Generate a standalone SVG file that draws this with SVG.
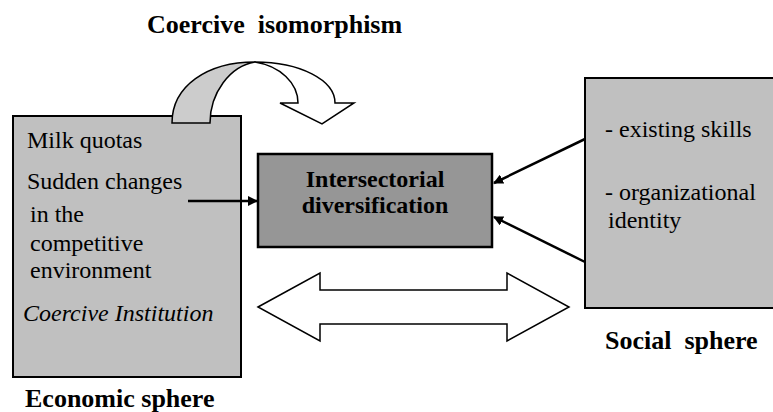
<svg xmlns="http://www.w3.org/2000/svg" width="773" height="412" viewBox="0 0 773 412">
<defs>
<style>
.box{fill:#c0c0c0;stroke:#000;stroke-width:2}
.mid{fill:#969696;stroke:#000;stroke-width:2.5}
.t{font-family:"Liberation Serif","Times New Roman",serif;font-size:24px;fill:#000}
.b{font-family:"Liberation Serif","Times New Roman",serif;font-size:26px;font-weight:bold;fill:#000;white-space:pre}
.mb{font-family:"Liberation Serif","Times New Roman",serif;font-size:24px;font-weight:bold;fill:#000}
.ln{stroke:#000;stroke-width:2.5;fill:none}
</style>
<marker id="ah" markerWidth="10" markerHeight="10" refX="9" refY="5" orient="auto" markerUnits="userSpaceOnUse" viewBox="0 0 10 10">
<path d="M0,0 L10,5 L0,10 z" fill="#000"/>
</marker>
</defs>
<rect width="773" height="412" fill="#fff"/>
<text class="b" x="147" y="33">Coercive  isomorphism</text>
<g id="economic">
<rect class="box" x="13" y="116" width="228" height="261"/>
<text class="t" x="27" y="148">Milk quotas</text>
<text class="t" x="27" y="189">Sudden changes</text>
<text class="t" x="30" y="222">in the</text>
<text class="t" x="30" y="251">competitive</text>
<text class="t" x="30" y="278">environment</text>
<text class="t" x="23" y="321" font-style="italic">Coercive Institution</text>
<text class="b" x="25" y="407">Economic sphere</text>
</g>
<g id="coercive-arrow">
<path d="M172,123 C172,86 207,62 255,62 C230,66 210,93 210,123 Z" fill="#cccccc" stroke="#000" stroke-width="1.5"/>
<path d="M255,62 C300,62 335,80 335,103 L354,103 L322,124 L280,103 L298,103 C298,83 280,66 255,62 Z" fill="#fff" stroke="#000" stroke-width="1.5"/>
</g>
<g id="diversification">
<rect class="mid" x="258" y="154" width="234" height="93"/>
<text class="mb" x="375" y="187" text-anchor="middle">Intersectorial</text>
<text class="mb" x="375" y="213" text-anchor="middle">diversification</text>
</g>
<g id="social">
<rect class="box" x="585" y="78" width="200" height="230"/>
<text class="t" x="605" y="137">- existing skills</text>
<text class="t" x="605" y="200">- organizational</text>
<text class="t" x="608" y="228">identity</text>
<text class="b" x="605" y="349">Social  sphere</text>
</g>
<g id="interaction">
<path d="M258,307 L320,273 L320,290 L507,290 L507,273 L569,307 L507,341 L507,324 L320,324 L320,341 Z" fill="#fff" stroke="#000" stroke-width="1.5"/>
</g>
<g id="connectors">
<line class="ln" x1="188" y1="201" x2="257" y2="201" marker-end="url(#ah)"/>
<line class="ln" x1="585" y1="139" x2="494" y2="183" marker-end="url(#ah)"/>
<line class="ln" x1="585" y1="262" x2="494" y2="217" marker-end="url(#ah)"/>
</g>
</svg>
